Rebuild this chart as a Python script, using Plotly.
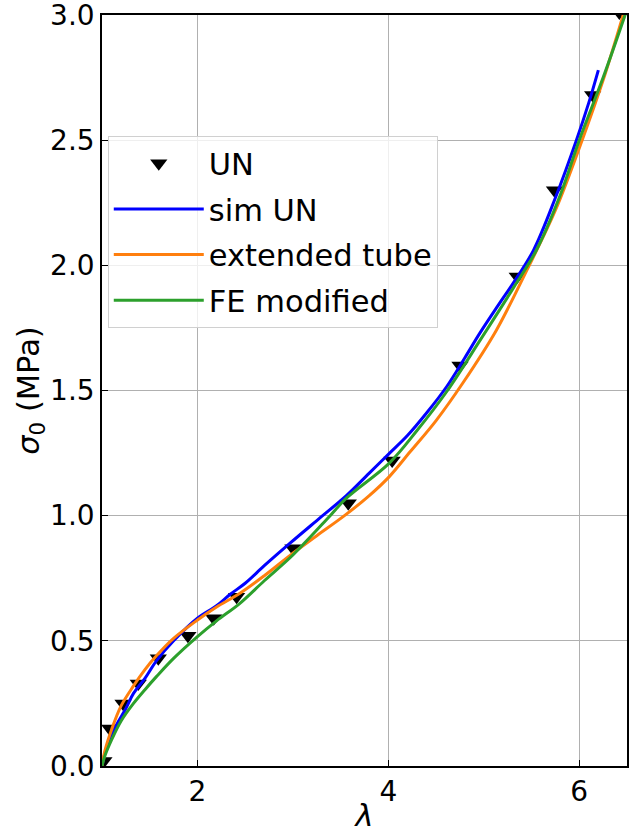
"""
Courbe contrainte nominale / elongation (traction uniaxiale)
"""
from plotly.graph_objects import Scatter, Figure

# donnees experimentales UN
lam_un = [1.02, 1.08, 1.22, 1.38, 1.59, 1.90, 2.17, 2.41, 3.00, 3.58, 4.04, 4.75, 5.35, 5.74, 6.14, 6.42]
sig_un = [0.02, 0.15, 0.25, 0.33, 0.43, 0.52, 0.59, 0.676, 0.87, 1.05, 1.22, 1.60, 1.955, 2.30, 2.68, 3.01]

# simulation UN
lam_sim = [1.0, 1.03, 1.08, 1.16, 1.25, 1.33, 1.45, 1.57, 1.75, 2.0, 2.2, 2.34, 2.5, 2.7, 2.97,
           3.28, 3.56, 3.8, 4.0, 4.2, 4.4, 4.61, 4.8, 4.96, 5.15, 5.31, 5.52, 5.75, 5.97, 6.1, 6.2]
sig_sim = [0.0, 0.05, 0.11, 0.17, 0.23, 0.29, 0.35, 0.42, 0.50, 0.59, 0.64, 0.685, 0.73, 0.80, 0.89,
           0.99, 1.08, 1.17, 1.245, 1.32, 1.41, 1.515, 1.63, 1.73, 1.84, 1.93, 2.06, 2.27, 2.5, 2.65, 2.78]

# modele extended tube
lam_et = [1.0, 1.03, 1.1, 1.2, 1.33, 1.45, 1.57, 1.75, 2.0, 2.2, 2.445, 2.7, 3.0, 3.25, 3.54,
          3.8, 4.01, 4.23, 4.5, 4.78, 5.13, 5.45, 5.75, 6.03, 6.25, 6.46, 6.55]
sig_et = [0.0, 0.06, 0.145, 0.24, 0.32, 0.385, 0.44, 0.51, 0.583, 0.635, 0.69, 0.76, 0.85, 0.92, 1.0,
          1.08, 1.156, 1.256, 1.38, 1.53, 1.74, 1.98, 2.22, 2.5, 2.74, 3.0, 3.12]

# modele FE modified
lam_fe = [1.0, 1.03, 1.1, 1.2, 1.33, 1.45, 1.57, 1.75, 2.0, 2.2, 2.445, 2.7, 3.0, 3.39, 3.56,
          4.01, 4.3, 4.61, 4.96, 5.31, 5.55, 5.8, 6.0, 6.25, 6.48, 6.55]
sig_fe = [0.0, 0.04, 0.104, 0.18, 0.25, 0.305, 0.357, 0.43, 0.517, 0.58, 0.65, 0.74, 0.843, 1.0, 1.07,
          1.21, 1.34, 1.495, 1.70, 1.91, 2.06, 2.28, 2.5, 2.75, 3.0, 3.08]

FONT = "DejaVu Sans"
FS_TICK = 28
FS_LAB = 30.5


def make_fig():
    fig = Figure()
    fig.add_trace(Scatter(x=lam_un, y=sig_un, mode="markers", name="UN", legendgroup="a",
                          marker=dict(symbol="triangle-down", size=15, color="black")))
    fig.add_trace(Scatter(x=lam_sim, y=sig_sim, mode="lines", name="sim UN", legendgroup="b",
                          line=dict(color="#0000ff", width=3, shape="spline")))
    fig.add_trace(Scatter(x=lam_et, y=sig_et, mode="lines", name="extended tube", legendgroup="c",
                          line=dict(color="#ff7f0e", width=3, shape="spline")))
    fig.add_trace(Scatter(x=lam_fe, y=sig_fe, mode="lines", name="FE modified", legendgroup="d",
                          line=dict(color="#2ca02c", width=3, shape="spline")))

    axis = dict(showline=True, mirror=True, linecolor="black", linewidth=1.5,
                ticks="inside", ticklen=6, tickwidth=1.2, tickcolor="black",
                showgrid=True, gridcolor="#b0b0b0", gridwidth=1, zeroline=False,
                automargin=False, ticklabeloverflow="allow",
                tickfont=dict(family=FONT, size=FS_TICK, color="black"))

    fig.update_layout(
        width=632, height=833,
        margin=dict(l=102, r=5, t=15, b=67),
        paper_bgcolor="white", plot_bgcolor="white",
        font=dict(family=FONT, size=FS_TICK, color="black"),
        xaxis=dict(axis, range=[1.0, 6.5], dtick=2, tick0=0,
                   title=dict(text="<i>λ</i>", font=dict(family=FONT, size=FS_LAB), standoff=2)),
        yaxis=dict(axis, range=[0, 3.0], dtick=0.5, tickformat=".1f",
                   title=dict(text="<i>σ</i><sub>0</sub> (MPa)", font=dict(family=FONT, size=FS_LAB), standoff=0)),
        legend=dict(x=0.011, y=0.839, xanchor="left", yanchor="top",
                    bgcolor="rgba(255,255,255,0.8)", bordercolor="#d0d0d0", borderwidth=1,
                    font=dict(family=FONT, size=FS_LAB), tracegroupgap=3,
                    itemwidth=90, traceorder="grouped"),
        showlegend=True,
    )
    return fig


def main():
    fig = make_fig()
    # pas de marge autour de la figure dans la page
    fig.write_html("out.html", config={"displayModeBar": False},
                   post_script="document.body.style.margin='0';")


if __name__ == "__main__":
    main()
